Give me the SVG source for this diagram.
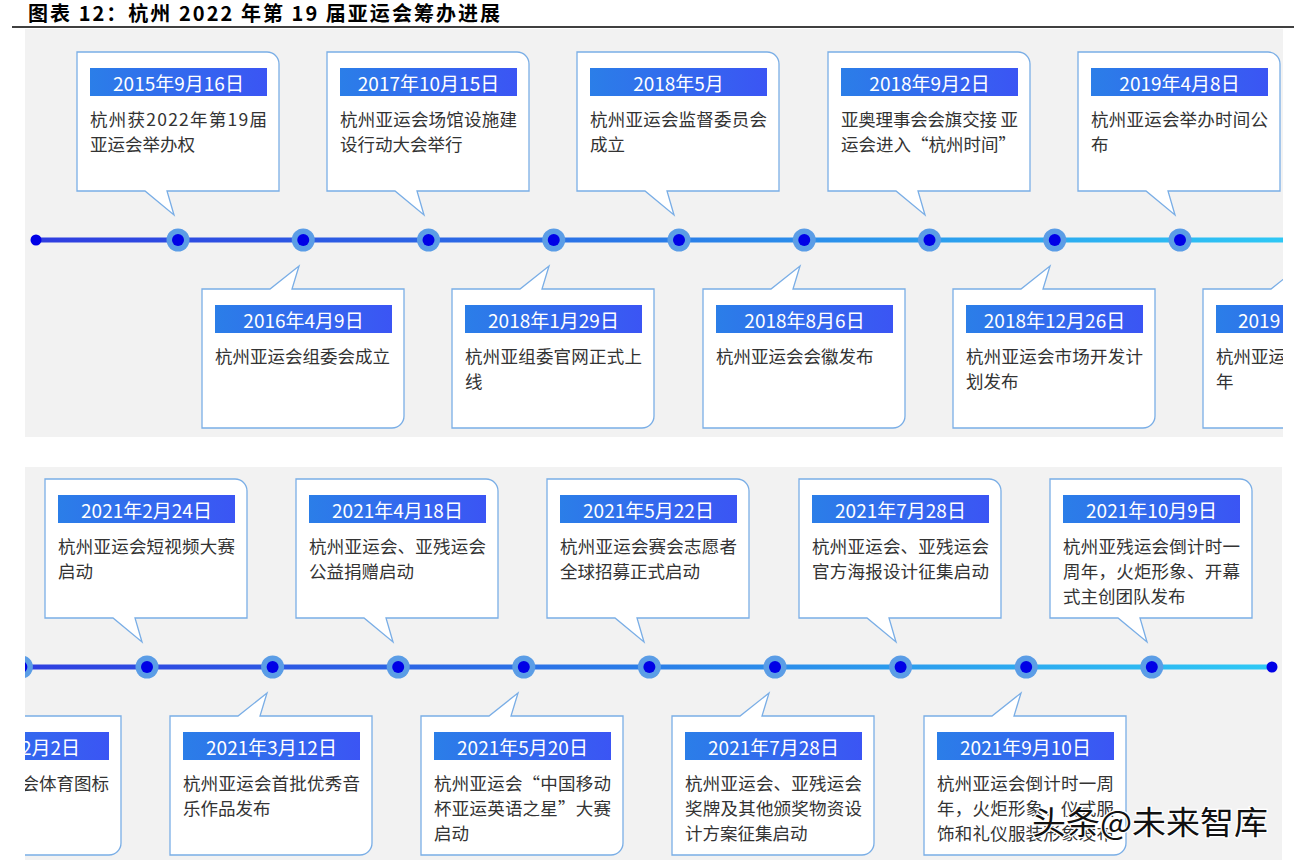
<svg xmlns="http://www.w3.org/2000/svg" width="1294" height="860" viewBox="0 0 1294 860">
<defs>
<style>
.title{font-family:"Noto Sans CJK SC","Noto Sans",sans-serif;font-size:20px;font-weight:bold;fill:#000}
.panel{fill:#f2f2f2}
.box{fill:#fff;stroke:#7aaee6;stroke-width:1.3}
.bar{fill:url(#barGrad)}
.date{font-family:"Noto Sans CJK SC","Noto Sans",sans-serif;font-size:19px;fill:#fff;text-anchor:middle;dominant-baseline:central}
.body{font-family:"Noto Sans CJK SC","Noto Sans",sans-serif;font-size:17.5px;fill:#333;dominant-baseline:central}
.halo{fill:#5b9de6}
.dot{fill:#0000e6}
.wm{font-family:"Noto Sans CJK SC",sans-serif;font-size:32px;fill:#111;stroke:#fff;stroke-width:2.5;paint-order:stroke;dominant-baseline:central}
</style>
<linearGradient id="barGrad" x1="0" y1="0" x2="1" y2="0">
<stop offset="0" stop-color="#2b7ee8"/>
<stop offset="1" stop-color="#3b55f4"/>
</linearGradient>
<linearGradient id="lineGrad" x1="0" y1="0" x2="1" y2="0">
<stop offset="0" stop-color="#2f3de0"/>
<stop offset="0.5" stop-color="#2a7de8"/>
<stop offset="1" stop-color="#2ec9f5"/>
</linearGradient>
<clipPath id="clip1"><rect x="25" y="29" width="1258" height="408"/></clipPath>
<clipPath id="clip2"><rect x="25" y="467" width="1257" height="393"/></clipPath>
</defs>

<g id="header">
<text class="title" x="28" y="21" textLength="472" lengthAdjust="spacing">图表 12：杭州 2022 年第 19 届亚运会筹办进展</text>
<line x1="12" y1="27" x2="1294" y2="27" stroke="#000" stroke-width="1.5"/>
</g>

<rect class="panel" x="25" y="29" width="1258" height="408"/>
<rect class="panel" x="25" y="467" width="1257" height="393"/>

<g id="connectors">
<g clip-path="url(#clip1)">
<rect x="36" y="237.5" width="1260" height="5" fill="url(#lineGrad)"/>
<circle class="dot" cx="36" cy="240" r="5.5"/>
<g id="t1-nodes">
<circle class="halo" cx="178" cy="240" r="11.5"/><circle class="dot" cx="178" cy="240" r="6"/>
<circle class="halo" cx="303.25" cy="240" r="11.5"/><circle class="dot" cx="303.25" cy="240" r="6"/>
<circle class="halo" cx="428.5" cy="240" r="11.5"/><circle class="dot" cx="428.5" cy="240" r="6"/>
<circle class="halo" cx="553.75" cy="240" r="11.5"/><circle class="dot" cx="553.75" cy="240" r="6"/>
<circle class="halo" cx="679" cy="240" r="11.5"/><circle class="dot" cx="679" cy="240" r="6"/>
<circle class="halo" cx="804.25" cy="240" r="11.5"/><circle class="dot" cx="804.25" cy="240" r="6"/>
<circle class="halo" cx="929.5" cy="240" r="11.5"/><circle class="dot" cx="929.5" cy="240" r="6"/>
<circle class="halo" cx="1054.75" cy="240" r="11.5"/><circle class="dot" cx="1054.75" cy="240" r="6"/>
<circle class="halo" cx="1180" cy="240" r="11.5"/><circle class="dot" cx="1180" cy="240" r="6"/>
</g>
</g>
<g clip-path="url(#clip2)">
<rect x="10" y="664.5" width="1262" height="5" fill="url(#lineGrad)"/>
<circle class="dot" cx="1272" cy="667" r="5.5"/>
<circle class="halo" cx="21.4" cy="667" r="11.5"/><circle class="dot" cx="21.4" cy="667" r="6"/>
<circle class="halo" cx="147" cy="667" r="11.5"/><circle class="dot" cx="147" cy="667" r="6"/>
<circle class="halo" cx="272.6" cy="667" r="11.5"/><circle class="dot" cx="272.6" cy="667" r="6"/>
<circle class="halo" cx="398.2" cy="667" r="11.5"/><circle class="dot" cx="398.2" cy="667" r="6"/>
<circle class="halo" cx="523.8" cy="667" r="11.5"/><circle class="dot" cx="523.8" cy="667" r="6"/>
<circle class="halo" cx="649.4" cy="667" r="11.5"/><circle class="dot" cx="649.4" cy="667" r="6"/>
<circle class="halo" cx="775" cy="667" r="11.5"/><circle class="dot" cx="775" cy="667" r="6"/>
<circle class="halo" cx="900.6" cy="667" r="11.5"/><circle class="dot" cx="900.6" cy="667" r="6"/>
<circle class="halo" cx="1026.2" cy="667" r="11.5"/><circle class="dot" cx="1026.2" cy="667" r="6"/>
<circle class="halo" cx="1151.8" cy="667" r="11.5"/><circle class="dot" cx="1151.8" cy="667" r="6"/>
</g>
</g>

<g clip-path="url(#clip1)">
<g id="e-2015-09-16">
<path class="box" d="M77,52 H267 A12,12 0 0 1 279,64 V191 H167 L174,215 L145,191 H77 Z"/>
<rect class="bar" x="90" y="68" width="177" height="28"/>
<text class="date" x="178.5" y="82">2015年9月16日</text>
<text class="body" x="90" y="118" textLength="177" lengthAdjust="spacing">杭州获2022年第19届</text>
<text class="body" x="90" y="143">亚运会举办权</text>
</g>
<g id="e-2017-10-15">
<path class="box" d="M327,52 H517 A12,12 0 0 1 529,64 V191 H417 L424,215 L395,191 H327 Z"/>
<rect class="bar" x="340" y="68" width="177" height="28"/>
<text class="date" x="428.5" y="82">2017年10月15日</text>
<text class="body" x="340" y="118" textLength="177" lengthAdjust="spacing">杭州亚运会场馆设施建</text>
<text class="body" x="340" y="143">设行动大会举行</text>
</g>
<g id="e-2018-05">
<path class="box" d="M577,52 H767 A12,12 0 0 1 779,64 V191 H667 L674,215 L645,191 H577 Z"/>
<rect class="bar" x="590" y="68" width="177" height="28"/>
<text class="date" x="678.5" y="82">2018年5月</text>
<text class="body" x="590" y="118" textLength="177" lengthAdjust="spacing">杭州亚运会监督委员会</text>
<text class="body" x="590" y="143">成立</text>
</g>
<g id="e-2018-09-02">
<path class="box" d="M828,52 H1018 A12,12 0 0 1 1030,64 V191 H918 L925,215 L896,191 H828 Z"/>
<rect class="bar" x="841" y="68" width="177" height="28"/>
<text class="date" x="929.5" y="82">2018年9月2日</text>
<text class="body" x="841" y="118" textLength="177" lengthAdjust="spacing">亚奥理事会会旗交接 亚</text>
<text class="body" x="841" y="143">运会进入“杭州时间”</text>
</g>
<g id="e-2019-04-08">
<path class="box" d="M1078,52 H1268 A12,12 0 0 1 1280,64 V191 H1168 L1175,215 L1146,191 H1078 Z"/>
<rect class="bar" x="1091" y="68" width="177" height="28"/>
<text class="date" x="1179.5" y="82">2019年4月8日</text>
<text class="body" x="1091" y="118" textLength="177" lengthAdjust="spacing">杭州亚运会举办时间公</text>
<text class="body" x="1091" y="143">布</text>
</g>

<g id="e-2016-04-09">
<path class="box" d="M202,289 H270 L299,266 L292,289 H404 V416 A12,12 0 0 1 392,428 H202 Z"/>
<rect class="bar" x="215" y="305" width="177" height="28"/>
<text class="date" x="303.5" y="319">2016年4月9日</text>
<text class="body" x="215" y="355">杭州亚运会组委会成立</text>
</g>
<g id="e-2018-01-29">
<path class="box" d="M452,289 H520 L549,266 L542,289 H654 V416 A12,12 0 0 1 642,428 H452 Z"/>
<rect class="bar" x="465" y="305" width="177" height="28"/>
<text class="date" x="553.5" y="319">2018年1月29日</text>
<text class="body" x="465" y="355" textLength="177" lengthAdjust="spacing">杭州亚组委官网正式上</text>
<text class="body" x="465" y="380">线</text>
</g>
<g id="e-2018-08-06">
<path class="box" d="M703,289 H771 L800,266 L793,289 H905 V416 A12,12 0 0 1 893,428 H703 Z"/>
<rect class="bar" x="716" y="305" width="177" height="28"/>
<text class="date" x="804.5" y="319">2018年8月6日</text>
<text class="body" x="716" y="355">杭州亚运会会徽发布</text>
</g>
<g id="e-2018-12-26">
<path class="box" d="M953,289 H1021 L1050,266 L1043,289 H1155 V416 A12,12 0 0 1 1143,428 H953 Z"/>
<rect class="bar" x="966" y="305" width="177" height="28"/>
<text class="date" x="1054.5" y="319">2018年12月26日</text>
<text class="body" x="966" y="355" textLength="177" lengthAdjust="spacing">杭州亚运会市场开发计</text>
<text class="body" x="966" y="380">划发布</text>
</g>
<g id="e-2019-cut">
<path class="box" d="M1203,289 H1271 L1300,266 L1293,289 H1405 V416 A12,12 0 0 1 1393,428 H1203 Z"/>
<rect class="bar" x="1216" y="305" width="177" height="28"/>
<text class="date" x="1238" y="319" style="text-anchor:start">2019</text>
<text class="body" x="1216" y="355">杭州亚运</text>
<text class="body" x="1216" y="380">年</text>
</g>
</g>

<g clip-path="url(#clip2)">
<g id="e-2021-02-24">
<path class="box" d="M45,479 H235 A12,12 0 0 1 247,491 V618 H135 L142,642 L113,618 H45 Z"/>
<rect class="bar" x="58" y="495" width="177" height="28"/>
<text class="date" x="146.5" y="509">2021年2月24日</text>
<text class="body" x="58" y="545" textLength="177" lengthAdjust="spacing">杭州亚运会短视频大赛</text>
<text class="body" x="58" y="570">启动</text>
</g>
<g id="e-2021-04-18">
<path class="box" d="M296,479 H486 A12,12 0 0 1 498,491 V618 H386 L393,642 L364,618 H296 Z"/>
<rect class="bar" x="309" y="495" width="177" height="28"/>
<text class="date" x="397.5" y="509">2021年4月18日</text>
<text class="body" x="309" y="545" textLength="177" lengthAdjust="spacing">杭州亚运会、亚残运会</text>
<text class="body" x="309" y="570">公益捐赠启动</text>
</g>
<g id="e-2021-05-22">
<path class="box" d="M547,479 H737 A12,12 0 0 1 749,491 V618 H637 L644,642 L615,618 H547 Z"/>
<rect class="bar" x="560" y="495" width="177" height="28"/>
<text class="date" x="648.5" y="509">2021年5月22日</text>
<text class="body" x="560" y="545" textLength="177" lengthAdjust="spacing">杭州亚运会赛会志愿者</text>
<text class="body" x="560" y="570">全球招募正式启动</text>
</g>
<g id="e-2021-07-28a">
<path class="box" d="M799,479 H989 A12,12 0 0 1 1001,491 V618 H889 L896,642 L867,618 H799 Z"/>
<rect class="bar" x="812" y="495" width="177" height="28"/>
<text class="date" x="900.5" y="509">2021年7月28日</text>
<text class="body" x="812" y="545" textLength="177" lengthAdjust="spacing">杭州亚运会、亚残运会</text>
<text class="body" x="812" y="570" textLength="177" lengthAdjust="spacing">官方海报设计征集启动</text>
</g>
<g id="e-2021-10-09">
<path class="box" d="M1050,479 H1240 A12,12 0 0 1 1252,491 V618 H1140 L1147,642 L1118,618 H1050 Z"/>
<rect class="bar" x="1063" y="495" width="177" height="28"/>
<text class="date" x="1151.5" y="509">2021年10月9日</text>
<text class="body" x="1063" y="545" textLength="177" lengthAdjust="spacing">杭州亚残运会倒计时一</text>
<text class="body" x="1063" y="570" textLength="177" lengthAdjust="spacing">周年，火炬形象、开幕</text>
<text class="body" x="1063" y="595">式主创团队发布</text>
</g>

<g id="e-2021-02-02">
<path class="box" d="M-81,716 H-13 L16,693 L9,716 H121 V843 A12,12 0 0 1 109,855 H-81 Z"/>
<rect class="bar" x="-68" y="732" width="177" height="28"/>
<text class="date" x="80" y="746" style="text-anchor:end">2月2日</text>
<text class="body" x="109" y="782" style="text-anchor:end">会体育图标</text>
</g>
<g id="e-2021-03-12">
<path class="box" d="M170,716 H238 L267,693 L260,716 H372 V843 A12,12 0 0 1 360,855 H170 Z"/>
<rect class="bar" x="183" y="732" width="177" height="28"/>
<text class="date" x="271.5" y="746">2021年3月12日</text>
<text class="body" x="183" y="782" textLength="177" lengthAdjust="spacing">杭州亚运会首批优秀音</text>
<text class="body" x="183" y="807">乐作品发布</text>
</g>
<g id="e-2021-05-20">
<path class="box" d="M421,716 H489 L518,693 L511,716 H623 V843 A12,12 0 0 1 611,855 H421 Z"/>
<rect class="bar" x="434" y="732" width="177" height="28"/>
<text class="date" x="522.5" y="746">2021年5月20日</text>
<text class="body" x="434" y="782" textLength="177" lengthAdjust="spacing">杭州亚运会“中国移动</text>
<text class="body" x="434" y="807" textLength="177" lengthAdjust="spacing">杯亚运英语之星”大赛</text>
<text class="body" x="434" y="832">启动</text>
</g>
<g id="e-2021-07-28b">
<path class="box" d="M672,716 H740 L769,693 L762,716 H874 V843 A12,12 0 0 1 862,855 H672 Z"/>
<rect class="bar" x="685" y="732" width="177" height="28"/>
<text class="date" x="773.5" y="746">2021年7月28日</text>
<text class="body" x="685" y="782" textLength="177" lengthAdjust="spacing">杭州亚运会、亚残运会</text>
<text class="body" x="685" y="807" textLength="177" lengthAdjust="spacing">奖牌及其他颁奖物资设</text>
<text class="body" x="685" y="832">计方案征集启动</text>
</g>
<g id="e-2021-09-10">
<path class="box" d="M924,716 H992 L1021,693 L1014,716 H1126 V843 A12,12 0 0 1 1114,855 H924 Z"/>
<rect class="bar" x="937" y="732" width="177" height="28"/>
<text class="date" x="1025.5" y="746">2021年9月10日</text>
<text class="body" x="937" y="782" textLength="177" lengthAdjust="spacing">杭州亚运会倒计时一周</text>
<text class="body" x="937" y="807" textLength="177" lengthAdjust="spacing">年，火炬形象、仪式服</text>
<text class="body" x="937" y="832" textLength="177" lengthAdjust="spacing">饰和礼仪服装形象发布</text>
</g>
</g>

<g id="watermark">
<text class="wm" x="1032" y="820" textLength="236" lengthAdjust="spacingAndGlyphs">头条@未来智库</text>
</g>
</svg>
